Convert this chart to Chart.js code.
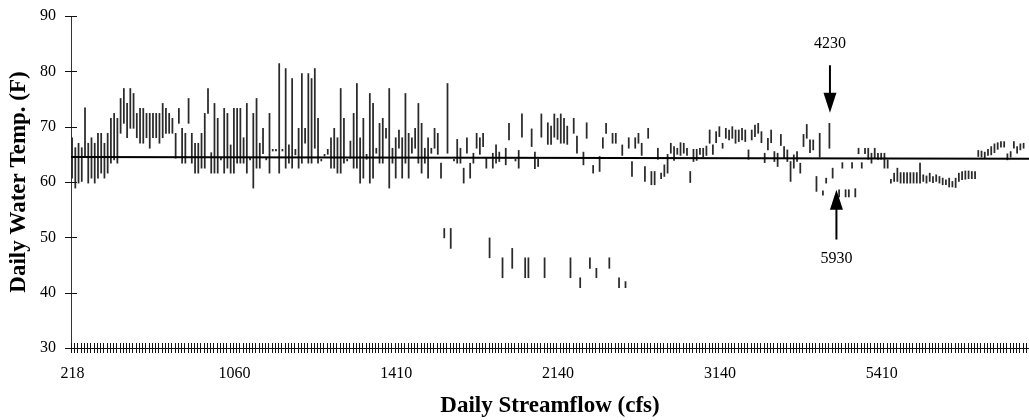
<!DOCTYPE html>
<html>
<head>
<meta charset="utf-8">
<script src="https://cdn.jsdelivr.net/npm/chart.js@4/dist/chart.umd.min.js"></script>
<style>
  body { margin: 0; background: #fff; }
</style>
</head>
<body>
<canvas id="tempChart" width="1029" height="420"></canvas>
<script>
// 일 최고/최저 수온 (F), 유량 순으로 정렬된 일자별 값
const tempHigh = [
  68.0, 66.2, 67.0, 66.2, 73.4, 67.0, 68.0, 67.0, 68.8, 68.8,
  67.0, 68.8, 71.5, 72.4, 71.5, 75.1, 76.9, 74.2, 76.9, 76.0,
  72.4, 73.3, 73.3, 72.4, 72.4, 72.4, 72.4, 72.4, 74.2, 73.3,
  72.4, 71.5, 68.8, 73.3, 69.7, 68.8, 75.1, 68.8, 67.0, 67.0,
  68.8, 72.4, 76.9, 65.3, 74.2, 71.5, 64.3, 73.3, 72.4, 66.7,
  73.3, 73.3, 73.3, 68.0, 74.2, 64.3, 72.4, 75.1, 67.0, 69.7,
  64.3, 72.4, 65.9, 65.9, 81.4, 65.9, 80.5, 66.7, 78.7, 65.9,
  69.7, 79.6, 69.7, 79.6, 78.7, 80.5, 71.5, 64.1, 65.0, 65.9,
  68.0, 69.7, 68.0, 76.9, 71.5, 64.1, 67.4, 72.4, 77.8, 68.0,
  71.5, 65.0, 76.0, 74.2, 66.1, 70.6, 71.5, 69.7, 76.9, 66.1,
  68.0, 69.4, 68.0, 76.0, 68.8, 68.0, 69.7, 74.2, 70.6, 66.1,
  68.0, 66.1, 69.7, 68.8, 63.4, 51.6, 77.8, 51.6, 64.1, 67.7,
  66.1, 62.5, 68.0, 63.4, 65.2, 68.8, 68.0, 68.8, 64.3, 49.9,
  65.2, 66.7, 65.4, 46.3, 66.1, 70.6, 48.0, 64.1, 65.7, 72.3,
  46.3, 46.3, 69.6, 65.4, 64.1, 72.3, 46.3, 70.7, 70.1, 72.3,
  71.5, 72.3, 71.5, 70.1, 46.3, 71.5, 68.3, 42.7, 65.4, 70.7,
  46.3, 63.0, 44.4, 64.6, 68.0, 70.6, 46.3, 68.8, 68.8, 42.7,
  66.7, 42.0, 68.0, 63.7, 68.0, 68.8, 67.0, 62.8, 69.7, 61.9,
  61.9, 66.1, 61.6, 63.1, 65.0, 67.0, 66.4, 66.1, 67.1, 67.0,
  66.1, 61.9, 65.9, 65.9, 66.1, 66.1, 66.5, 69.4, 66.7, 69.1,
  70.0, 67.0, 69.7, 69.4, 70.0, 69.4, 69.4, 69.7, 69.4, 65.8,
  69.4, 70.3, 70.6, 69.1, 65.2, 67.9, 69.4, 65.5, 65.2, 68.6,
  66.4, 65.8, 63.7, 64.9, 65.5, 63.4, 68.6, 70.4, 67.6, 67.6,
  61.0, 68.8, 58.4, 60.7, 70.6, 62.5, null, 58.6, 63.5, 58.6,
  58.6, 63.5, 58.8, 66.1, 63.5, 66.1, 66.1, 65.2, 66.1, 65.2,
  65.2, 65.2, 64.0, 60.5, 61.6, 62.5, 61.7, 61.7, 61.7, 61.7,
  61.7, 61.7, 63.4, 61.3, 61.1, 61.6, 61.0, 61.3, 61.0, 60.7,
  60.4, 60.7, 60.1, 60.7, 61.6, 61.9, 62.0, 62.0, 61.9, 61.9,
  65.7, 65.6, 65.4, 65.9, 66.4, 66.9, 67.1, 67.3, 67.3, 65.1,
  65.5, 67.3, 66.4, 66.9, 67.0, null
];
const tempLow = [
  60.7, 58.9, 59.8, 60.1, 64.5, 59.8, 60.7, 59.8, 60.7, 61.6,
  60.7, 61.6, 63.4, 64.0, 63.4, 68.8, 70.6, 68.0, 69.7, 69.7,
  68.0, 67.0, 67.0, 68.0, 66.1, 68.0, 68.0, 67.0, 68.0, 68.8,
  68.8, 68.8, 64.3, 70.6, 63.4, 63.4, 70.6, 63.4, 61.6, 61.6,
  62.5, 62.5, 72.4, 61.6, 61.6, 61.6, 64.0, 61.6, 62.5, 61.6,
  61.6, 63.4, 63.4, 63.4, 61.6, 64.0, 58.9, 62.5, 62.5, 65.1,
  64.0, 61.6, 65.6, 65.6, 61.6, 65.6, 62.5, 63.4, 62.5, 64.9,
  62.5, 63.4, 67.0, 63.4, 63.4, 66.1, 63.4, 63.8, 64.7, 65.0,
  62.5, 62.5, 61.6, 61.6, 63.4, 63.8, 64.3, 62.5, 62.5, 59.8,
  60.7, 64.1, 59.8, 60.7, 65.2, 63.4, 63.4, 67.9, 58.9, 63.4,
  60.7, 66.1, 60.7, 63.4, 60.7, 65.2, 66.1, 63.4, 61.6, 63.4,
  60.7, 65.2, 66.1, 65.0, 60.7, 49.9, 65.2, 48.0, 63.8, 63.4,
  63.4, 59.8, 65.2, 60.7, 63.4, 66.1, 65.0, 66.4, 62.5, 46.3,
  62.5, 63.4, 63.7, 42.7, 63.1, 67.6, 44.4, 63.8, 62.5, 68.1,
  42.7, 42.7, 66.4, 62.4, 62.8, 68.1, 42.7, 66.8, 66.8, 68.1,
  67.7, 67.0, 67.0, 66.8, 42.7, 68.8, 65.2, 40.9, 63.1, 67.9,
  44.4, 61.6, 42.7, 61.9, 66.1, 68.8, 44.4, 67.0, 67.0, 40.9,
  64.8, 40.9, 66.1, 61.0, 66.1, 67.0, 64.8, 60.1, 67.9, 59.5,
  59.5, 64.1, 60.6, 61.0, 61.6, 65.2, 63.9, 65.0, 64.8, 65.2,
  64.8, 59.9, 63.7, 63.9, 65.0, 64.5, 64.8, 67.0, 65.0, 67.1,
  68.2, 66.1, 67.9, 67.6, 67.9, 67.0, 67.3, 67.6, 67.3, 64.1,
  67.6, 68.2, 68.8, 67.1, 63.5, 65.8, 67.1, 63.7, 62.8, 66.6,
  64.3, 63.7, 60.1, 62.5, 63.7, 61.6, 66.4, 67.9, 65.3, 65.8,
  58.3, 64.5, 57.6, 59.8, 66.1, 60.7, null, 57.3, 62.5, 57.3,
  57.3, 62.5, 57.3, 65.1, 62.5, 65.1, 64.1, 63.4, 64.3, 64.1,
  64.1, 62.5, 62.5, 59.8, 60.1, 60.1, 59.8, 59.8, 59.8, 59.8,
  59.8, 59.8, 59.8, 60.1, 59.8, 60.1, 59.9, 60.1, 59.8, 59.5,
  59.5, 59.1, 59.1, 59.0, 60.1, 60.4, 60.5, 60.6, 60.6, 60.6,
  64.6, 64.5, 64.4, 64.8, 64.9, 65.3, 65.9, 66.3, 66.3, 64.0,
  64.5, 66.1, 65.2, 65.8, 66.1, null
];

// x축 눈금 라벨 (유량, cfs)
const tickIndex = [0, 50, 100, 150, 200, 250];
const tickText = ["218", "1060", "1410", "2140", "3140", "5410"];

// 평균선 양 끝 값
const trendStart = 64.5;
const trendEnd = 64.2;

// 화살표 주석
const notes = [
    { label: "4230", index: 234, from: 81.1, to: 72.5, textAt: 85.0 },
    { label: "5930", index: 236, from: 49.6, to: 58.6, textAt: 46.2 }
];

const categories = tempHigh.map((_, i) => i);
const ranges = tempLow.map((lo, i) => (lo === null ? null : [lo, tempHigh[i]]));

const serif = "'Liberation Serif', 'Times New Roman', serif";

const extras = {
    id: "extras",
    afterDraw(chart) {
        const { ctx, chartArea: area, scales: { x, y } } = chart;
        ctx.save();
        ctx.strokeStyle = "#111";
        ctx.lineWidth = 1;
        ctx.beginPath();
        const step = x.width / categories.length;
        for (let i = 0; i <= categories.length; i++) {
            const px = Math.round(x.left + i * step) + 0.5;
            ctx.moveTo(px, area.bottom - 5);
            ctx.lineTo(px, area.bottom + 5);
        }
        y.ticks.forEach(t => {
            const py = Math.round(y.getPixelForValue(t.value)) + 0.5;
            ctx.moveTo(area.left - 6, py);
            ctx.lineTo(area.left + 6, py);
        });
        ctx.stroke();

        ctx.fillStyle = "#000";
        ctx.strokeStyle = "#000";
        ctx.font = "16px " + serif;
        ctx.textAlign = "center";
        ctx.textBaseline = "middle";
        notes.forEach(n => {
            const px = x.getPixelForValue(n.index);
            const p0 = y.getPixelForValue(n.from);
            const p1 = y.getPixelForValue(n.to);
            const dir = Math.sign(p1 - p0);
            ctx.lineWidth = 2;
            ctx.beginPath();
            ctx.moveTo(px, p0);
            ctx.lineTo(px, p1 - dir * 16);
            ctx.stroke();
            ctx.beginPath();
            ctx.moveTo(px, p1);
            ctx.lineTo(px - 6.5, p1 - dir * 20);
            ctx.lineTo(px + 6.5, p1 - dir * 20);
            ctx.closePath();
            ctx.fill();
            ctx.fillText(n.label, px, y.getPixelForValue(n.textAt));
        });
        ctx.restore();
    }
};

new Chart(document.getElementById("tempChart"), {
    data: {
        labels: categories,
        datasets: [
            {
                type: "bar",
                data: ranges,
                backgroundColor: "#2a2a2a",
                barThickness: 1.1,
                borderWidth: 0,
                order: 1
            },
            {
                type: "line",
                xAxisID: "x2",
                data: [{ x: 0, y: trendStart }, { x: 1, y: trendEnd }],
                borderColor: "#000",
                borderWidth: 2,
                pointRadius: 0,
                order: 0
            }
        ]
    },
    options: {
        responsive: false,
        animation: false,
        layout: { padding: { top: 16, right: -3, bottom: 0, left: 0 } },
        plugins: { legend: { display: false }, tooltip: { enabled: false } },
        scales: {
            x: {
                grid: { display: false },
                border: { display: true, color: "#111", width: 1 },
                ticks: {
                    autoSkip: false,
                    maxRotation: 0,
                    padding: 8,
                    color: "#000",
                    font: { family: serif, size: 16 },
                    callback: (value, index) => {
                        const k = tickIndex.indexOf(index);
                        return k >= 0 ? tickText[k] : "";
                    }
                },
                title: {
                    display: true,
                    text: "Daily Streamflow (cfs)",
                    color: "#000",
                    font: { family: serif, size: 23, weight: "bold", lineHeight: 1 },
                    padding: { top: 0, bottom: 2 }
                },
                afterFit(scale) {
                    scale.height = 72;
                    scale.paddingLeft = 0;
                    scale.paddingRight = 0;
                }
            },
            x2: { type: "linear", min: 0, max: 1, display: false },
            y: {
                min: 30,
                max: 90,
                grid: { display: false },
                border: { display: true, color: "#333", width: 1 },
                ticks: {
                    stepSize: 10,
                    padding: 7,
                    color: "#000",
                    font: { family: serif, size: 16 }
                },
                title: {
                    display: true,
                    text: "Daily Water Temp. (F)",
                    color: "#000",
                    font: { family: serif, size: 23, weight: "bold", lineHeight: 1 },
                    padding: { top: 8, bottom: 0 }
                },
                afterFit(scale) {
                    scale.width = 71;
                    scale.paddingTop = 0;
                    scale.paddingBottom = 0;
                }
            }
        }
    },
    plugins: [extras]
});
</script>
</body>
</html>
